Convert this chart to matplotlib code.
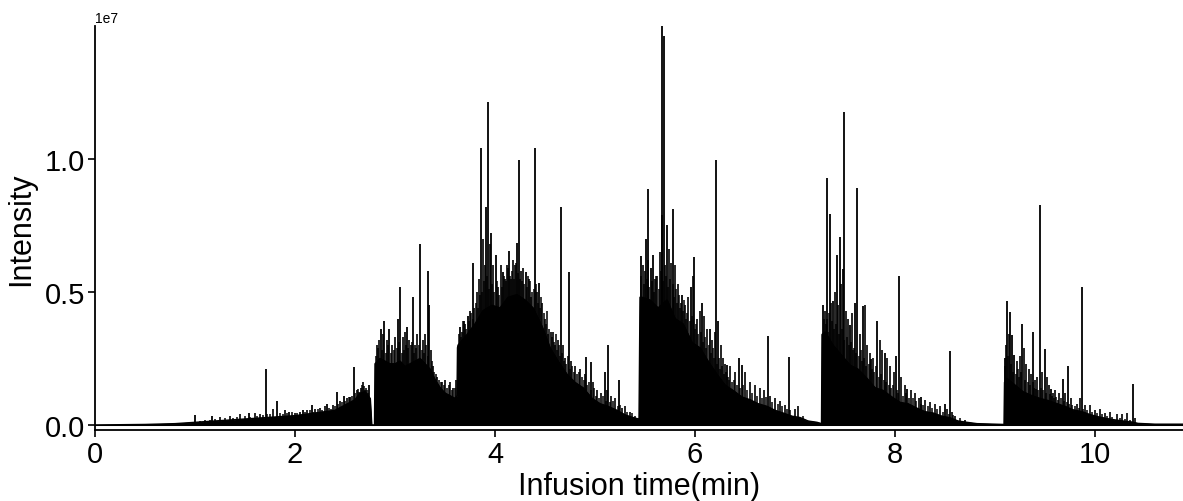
import matplotlib
matplotlib.use("Agg")
import matplotlib.pyplot as plt
import numpy as np

plt.rcParams['font.family'] = ['Liberation Sans', 'DejaVu Sans']

# Envelope of the dense signal (time in min, intensity in 1e6)
env_t = [0.0, 0.5, 0.8, 1.0, 1.2, 1.4, 1.6, 1.8, 2.0, 2.2, 2.4, 2.5, 2.6, 2.65, 2.7, 2.75, 2.765,
         2.795, 2.80, 2.85, 2.9, 2.95, 3.0, 3.05, 3.1, 3.15, 3.2, 3.25, 3.3, 3.35, 3.4, 3.45, 3.5, 3.55, 3.6, 3.62,
         3.625, 3.63, 3.72, 3.80, 3.88, 3.97, 4.05, 4.13, 4.22, 4.30, 4.38, 4.47, 4.55, 4.63, 4.72, 4.80, 4.88,
         4.97, 5.05, 5.13, 5.22, 5.30, 5.38, 5.44,
         5.45, 5.47, 5.55, 5.63, 5.72, 5.80, 5.88, 5.97, 6.05, 6.13, 6.22, 6.30, 6.38, 6.47, 6.55, 6.63, 6.72,
         6.80, 6.88, 6.97, 7.05, 7.13, 7.22, 7.265,
         7.27, 7.30, 7.38, 7.47, 7.55, 7.63, 7.72, 7.80, 7.88, 7.97, 8.05, 8.13, 8.22, 8.30, 8.38, 8.47, 8.55,
         8.63, 8.72, 8.82, 9.0, 9.09,
         9.095, 9.12, 9.20, 9.28, 9.37, 9.45, 9.53, 9.62, 9.70, 9.78, 9.87, 9.95, 10.03, 10.12, 10.20, 10.28,
         10.37, 10.43, 10.6, 10.88]
env_v = [0.0, 0.02, 0.05, 0.1, 0.15, 0.2, 0.25, 0.3, 0.35, 0.45, 0.55, 0.75, 0.95, 1.2, 1.25, 1.0, 0.0,
         0.0, 2.3, 2.5, 2.4, 2.3, 2.3, 2.4, 2.2, 2.3, 2.4, 2.5, 2.3, 2.1, 1.7, 1.4, 1.2, 1.1, 1.0, 1.1,
         2.9, 3.0, 3.4, 3.8, 4.3, 4.5, 4.4, 4.8, 4.9, 4.7, 4.4, 3.7, 2.9, 2.4, 1.9, 1.6, 1.4,
         1.0, 0.8, 0.7, 0.55, 0.38, 0.28, 0.22,
         4.8, 4.8, 4.7, 4.4, 4.7, 4.0, 3.8, 3.1, 2.9, 2.4, 1.9, 1.5, 1.3, 1.05, 0.95, 0.8, 0.7,
         0.55, 0.45, 0.33, 0.28, 0.15, 0.1, 0.05,
         3.4, 3.5, 3.0, 2.6, 2.25, 2.1, 1.75, 1.4, 1.3, 1.05, 0.85, 0.8, 0.63, 0.5, 0.45, 0.33, 0.27,
         0.15, 0.1, 0.05, 0.03, 0.02,
         1.6, 1.75, 1.5, 1.25, 1.1, 1.0, 0.92, 0.8, 0.7, 0.57, 0.5, 0.39, 0.31, 0.24, 0.19, 0.15,
         0.11, 0.06, 0.03, 0.03]

# Tall individual peaks (time in min, intensity in 1e6)
peak_t = [1.0, 1.17, 1.54, 1.707, 1.82, 1.94, 2.08, 2.17, 2.32, 2.42, 2.49, 2.55, 2.59, 2.74,
          2.86, 2.89, 2.94, 3.03, 3.05, 3.12, 3.18, 3.25, 3.33, 3.34,
          3.65, 3.69, 3.73, 3.776, 3.863, 3.906, 3.933, 3.96, 4.01, 4.08, 4.14, 4.22, 4.24, 4.31, 4.397,
          4.44, 4.66, 4.74, 4.91, 4.96, 5.10, 5.13, 5.24,
          5.46, 5.51, 5.527, 5.56, 5.583, 5.667, 5.673, 5.69, 5.717, 5.777, 5.87, 5.96, 5.99, 6.07, 6.15,
          6.21, 6.23, 6.32, 6.44, 6.47, 6.73, 6.94,
          7.28, 7.323, 7.35, 7.38, 7.42, 7.45, 7.48, 7.493, 7.55, 7.60, 7.62, 7.68, 7.76, 7.82, 7.90,
          8.01, 8.04, 8.12, 8.26, 8.50, 8.55,
          9.10, 9.12, 9.15, 9.167, 9.19, 9.27, 9.377, 9.45, 9.50, 9.56, 9.68, 9.73, 9.867, 10.38]
peak_v = [0.37, 0.33, 0.45, 2.1, 0.9, 0.5, 0.56, 0.75, 0.8, 1.23, 1.1, 1.06, 2.18, 1.5,
          3.6, 3.9, 3.6, 4.0, 5.2, 3.7, 4.8, 6.8, 5.8, 4.5,
          3.7, 3.9, 4.1, 6.1, 10.4, 8.2, 12.15, 7.2, 6.4, 5.76, 6.55, 6.84, 9.97, 5.75, 10.4,
          5.34, 8.2, 5.76, 2.57, 2.37, 2.0, 3.0, 1.69,
          6.35, 7.0, 8.87, 5.9, 6.4, 7.9, 15.04, 14.6, 7.5, 8.1, 4.9, 5.2, 6.3, 4.6, 3.6,
          9.94, 3.9, 2.25, 2.5, 2.25, 3.36, 2.55,
          4.5, 9.3, 7.93, 4.67, 6.4, 7.05, 5.86, 11.75, 3.77, 4.6, 8.9, 4.46, 2.48, 3.9, 2.7,
          2.6, 5.6, 1.35, 1.05, 0.8, 2.77,
          2.5, 4.65, 4.24, 3.38, 2.63, 3.8, 3.5, 8.27, 2.86, 1.35, 1.73, 2.2, 5.2, 1.54]

# Medium peaks giving the jagged top of the dense bands
minor_t = [1.25, 1.35, 1.45, 1.6, 1.65, 1.78, 1.9, 2.0, 2.05, 2.12, 2.2, 2.25, 2.3, 2.38, 2.45, 2.52,
           2.62, 2.66, 2.68, 2.7,
           2.82, 2.84, 2.88, 2.92, 2.97, 3.0, 3.08, 3.1, 3.14, 3.16, 3.2, 3.22, 3.28, 3.3, 3.36, 3.38,
           3.42, 3.47, 3.5, 3.55, 3.58, 3.61,
           3.67, 3.7, 3.75, 3.79, 3.82, 3.84, 3.88, 3.9, 3.95, 3.98, 4.03, 4.06, 4.1, 4.12, 4.16, 4.18,
           4.2, 4.26, 4.28, 4.34, 4.36, 4.42, 4.47, 4.5, 4.53, 4.56, 4.58, 4.6, 4.63, 4.68, 4.7, 4.76,
           4.8, 4.85, 4.9, 4.98, 5.02, 5.06, 5.12, 5.16, 5.2, 5.27, 5.3, 5.35,
           5.48, 5.5, 5.53, 5.6, 5.62, 5.65, 5.7, 5.74, 5.76, 5.8, 5.83, 5.86, 5.9, 5.93, 5.98, 6.02,
           6.05, 6.09, 6.12, 6.17, 6.2, 6.26, 6.28, 6.3, 6.35, 6.4, 6.5, 6.55, 6.6, 6.65, 6.69, 6.75,
           6.8, 6.85, 6.9, 7.0, 7.03,
           7.3, 7.32, 7.36, 7.4, 7.43, 7.46, 7.51, 7.53, 7.57, 7.65, 7.7, 7.72, 7.75, 7.78, 7.85, 7.87,
           7.92, 7.95, 7.99, 8.06, 8.1, 8.16, 8.2, 8.24, 8.3, 8.35, 8.4, 8.45, 8.52, 8.57, 8.6, 8.7,
           9.11, 9.14, 9.22, 9.25, 9.29, 9.31, 9.34, 9.36, 9.4, 9.42, 9.47, 9.52, 9.54, 9.58, 9.6,
           9.64, 9.7, 9.76, 9.82, 9.85, 9.9, 9.95, 10.0, 10.05, 10.1, 10.15, 10.22, 10.27, 10.32, 10.4]
minor_v = [0.3, 0.35, 0.4, 0.45, 0.4, 0.6, 0.55, 0.45, 0.5, 0.55, 0.6, 0.65, 0.7, 0.75, 0.9, 1.0,
           1.3, 1.4, 1.6, 1.3,
           3.0, 3.2, 3.4, 3.2, 3.0, 3.3, 3.3, 3.5, 3.2, 3.0, 3.0, 3.4, 3.2, 3.4, 2.8, 2.2,
           1.8, 1.6, 1.7, 1.6, 1.4, 1.7,
           3.5, 3.8, 4.3, 4.4, 5.0, 5.5, 7.0, 6.0, 6.8, 6.0, 5.2, 6.0, 5.5, 6.0, 5.5, 6.2,
           6.0, 5.8, 5.9, 5.5, 4.8, 5.0, 4.6, 4.0, 3.4, 3.5, 3.5, 3.0, 3.2, 3.0, 2.5, 2.4,
           2.2, 2.1, 1.9, 1.6, 1.3, 1.2, 1.3, 1.1, 1.0, 0.65, 0.7, 0.5,
           6.0, 5.8, 6.2, 5.5, 5.6, 6.5, 6.0, 6.6, 6.1, 6.0, 5.3, 4.6, 4.5, 4.8, 5.6, 4.0,
           4.3, 4.1, 3.6, 3.2, 3.5, 3.0, 2.5, 2.3, 2.2, 2.0, 2.0, 1.6, 1.5, 1.4, 1.3, 1.1,
           1.0, 0.9, 0.75, 0.6, 0.7,
           4.3, 4.0, 4.6, 5.0, 4.5, 5.3, 4.3, 4.0, 4.2, 3.4, 4.5, 3.0, 2.7, 2.5, 3.2, 2.8,
           2.5, 2.2, 2.0, 1.8, 1.5, 1.3, 1.2, 1.0, 0.95, 0.85, 0.8, 0.7, 0.6, 0.5, 0.35, 0.2,
           3.0, 3.4, 2.4, 2.6, 2.9, 2.3, 2.1, 1.9, 1.7, 1.8, 2.0, 1.8, 1.5, 1.2, 1.3,
           1.2, 1.2, 1.0, 0.8, 1.0, 0.75, 0.75, 0.55, 0.6, 0.45, 0.5, 0.4, 0.4, 0.45, 0.25]

# Densely packed small lines forming the ragged top of each band
fine_t = [1.05, 1.1, 1.15, 1.2, 1.3, 1.38, 1.42, 1.5, 1.55, 1.62, 1.68, 1.72, 1.75, 1.85, 1.88, 1.92,
          1.97, 2.02, 2.1, 2.15, 2.18, 2.23, 2.27, 2.34, 2.36, 2.4, 2.43, 2.47, 2.5, 2.54, 2.57, 2.6,
          2.63, 2.64, 2.67, 2.69, 2.71, 2.72, 2.73,
          2.81, 2.83, 2.87, 2.91, 2.93, 2.96, 2.99, 3.02, 3.04, 3.07, 3.09, 3.11, 3.13, 3.17, 3.19,
          3.21, 3.24, 3.27, 3.29, 3.31, 3.33, 3.37, 3.39, 3.41, 3.44, 3.46, 3.49, 3.52, 3.54, 3.57, 3.6,
          3.64, 3.66, 3.68, 3.71, 3.74, 3.76, 3.78, 3.81, 3.83, 3.85, 3.87, 3.89, 3.92, 3.94, 3.97,
          3.99, 4.02, 4.04, 4.07, 4.09, 4.11, 4.13, 4.15, 4.17, 4.19, 4.21, 4.23, 4.25, 4.27, 4.29,
          4.32, 4.33, 4.35, 4.37, 4.39, 4.41, 4.43, 4.45, 4.46, 4.49, 4.51, 4.52, 4.54, 4.57, 4.59,
          4.61, 4.62, 4.64, 4.65, 4.67, 4.69, 4.71, 4.73, 4.75, 4.77, 4.79, 4.82, 4.84, 4.87, 4.89,
          4.92, 4.94, 4.96, 4.99, 5.01, 5.04, 5.08, 5.11, 5.15, 5.18, 5.23, 5.25, 5.32, 5.37, 5.4,
          5.46, 5.49, 5.52, 5.54, 5.57, 5.59, 5.61, 5.64, 5.66, 5.68, 5.71, 5.73, 5.75, 5.78, 5.79,
          5.81, 5.82, 5.84, 5.85, 5.88, 5.89, 5.91, 5.92, 5.95, 5.97, 6.0, 6.01, 6.03, 6.06, 6.08,
          6.1, 6.11, 6.14, 6.16, 6.18, 6.19, 6.22, 6.24, 6.25, 6.27, 6.29, 6.31, 6.33, 6.34, 6.37,
          6.39, 6.42, 6.45, 6.48, 6.52, 6.57, 6.62, 6.67, 6.71, 6.77, 6.83, 6.87, 6.92, 6.95, 7.08,
          7.29, 7.31, 7.33, 7.34, 7.37, 7.39, 7.41, 7.44, 7.47, 7.49, 7.52, 7.54, 7.56, 7.58, 7.59,
          7.61, 7.64, 7.66, 7.67, 7.69, 7.71, 7.74, 7.77, 7.79, 7.81, 7.84, 7.86, 7.89, 7.91, 7.94,
          7.96, 7.98, 8.02, 8.03, 8.08, 8.11, 8.14, 8.18, 8.21, 8.26, 8.28, 8.33, 8.37, 8.42, 8.48,
          8.54, 8.58, 8.65,
          9.105, 9.13, 9.16, 9.18, 9.21, 9.23, 9.24, 9.26, 9.3, 9.33, 9.35, 9.38, 9.39, 9.41, 9.43,
          9.46, 9.48, 9.51, 9.55, 9.57, 9.59, 9.61, 9.63, 9.66, 9.69, 9.72, 9.74, 9.77, 9.8, 9.84,
          9.88, 9.92, 9.97, 10.02, 10.07, 10.12, 10.17, 10.25, 10.3, 10.35]
fine_v = [0.15, 0.2, 0.18, 0.22, 0.25, 0.28, 0.3, 0.32, 0.3, 0.35, 0.38, 0.4, 0.42, 0.45, 0.4, 0.45,
          0.5, 0.45, 0.5, 0.55, 0.5, 0.6, 0.55, 0.65, 0.6, 0.7, 0.8, 0.85, 0.9, 1.05, 1.1, 1.2,
          1.35, 1.25, 1.5, 1.45, 1.4, 1.3, 1.2,
          2.6, 2.9, 2.8, 2.7, 3.0, 2.7, 2.8, 2.9, 3.1, 2.7, 2.8, 3.0, 2.9, 3.1, 2.7,
          2.9, 3.0, 2.8, 2.7, 3.0, 2.6, 2.4, 2.0, 1.9, 1.7, 1.6, 1.5, 1.4, 1.5, 1.3, 1.4,
          3.4, 3.3, 3.9, 3.6, 3.9, 4.2, 4.0, 4.6, 4.4, 4.9, 5.0, 5.4, 5.6, 5.1, 5.3,
          5.0, 5.4, 4.9, 5.2, 5.6, 5.4, 5.9, 5.6, 5.8, 5.5, 6.1, 5.7, 5.5, 5.4, 5.3,
          5.2, 5.6, 5.4, 5.0, 5.1, 5.3, 4.6, 4.4, 4.8, 4.2, 3.8, 4.3, 3.6, 3.3, 3.1,
          3.4, 2.8, 3.0, 2.6, 2.7, 2.4, 2.3, 2.6, 2.1, 2.2, 2.0, 1.9, 2.0, 1.8, 1.7,
          1.5, 1.6, 1.3, 1.4, 1.1, 1.0, 1.1, 0.9, 0.85, 0.9, 0.7, 0.75, 0.5, 0.45, 0.35,
          5.6, 5.3, 5.5, 5.2, 5.4, 5.0, 5.6, 5.1, 5.8, 5.4, 5.6, 5.2, 5.5, 5.3, 4.8,
          5.1, 4.6, 4.9, 4.4, 4.3, 4.7, 4.0, 4.2, 3.9, 4.1, 3.6, 3.8, 3.4, 3.5, 3.1,
          3.3, 2.9, 3.0, 2.7, 2.9, 2.5, 2.3, 2.5, 2.1, 2.2, 1.9, 2.0, 1.8, 1.7, 1.6,
          1.7, 1.5, 1.4, 1.5, 1.3, 1.2, 1.1, 1.0, 1.05, 0.85, 0.8, 0.7, 0.6, 0.55, 0.35,
          4.0, 3.8, 3.5, 4.2, 3.9, 3.6, 3.8, 3.4, 3.6, 3.2, 3.3, 3.0, 3.1, 2.8, 2.9,
          2.7, 2.6, 2.8, 2.4, 2.5, 2.2, 2.3, 2.1, 2.0, 2.2, 1.8, 1.9, 1.7, 1.6, 1.5,
          1.4, 1.5, 1.3, 1.2, 1.1, 1.2, 1.0, 1.0, 0.9, 0.8, 0.75, 0.7, 0.65, 0.6, 0.5,
          0.4, 0.38, 0.25,
          2.2, 2.6, 2.3, 2.0, 1.9, 2.1, 1.8, 2.0, 1.7, 1.6, 1.5, 1.6, 1.4, 1.35, 1.3,
          1.4, 1.3, 1.2, 1.15, 1.1, 1.0, 1.05, 0.95, 1.0, 0.9, 0.85, 0.8, 0.75, 0.7, 0.65,
          0.6, 0.55, 0.5, 0.45, 0.4, 0.35, 0.3, 0.25, 0.22, 0.2]

x_ticks = [0, 2, 4, 6, 8, 10]
y_ticks = [0.0, 0.5e7, 1.0e7]

scale = 1e6
fig = plt.figure(figsize=(11.83, 5.02), dpi=100)
ax = fig.add_axes([0.0803, 0.1414, 0.9197, 0.8046])

ev = np.array(env_v) * scale
ax.fill_between(env_t, 0, ev, color='black', linewidth=0.8, edgecolor='black')
ax.plot(env_t, ev, color='black', linewidth=1.0)
ax.vlines(fine_t, 0, np.array(fine_v) * scale, color='black', linewidth=1.1)
ax.vlines(minor_t, 0, np.array(minor_v) * scale, color='black', linewidth=1.2)
ax.vlines(peak_t, 0, np.array(peak_v) * scale, color='black', linewidth=1.3)

ax.set_xlim(0, 10.88)
ax.set_ylim(-0.19e6, 14.99e6)
ax.set_xticks(x_ticks)
ax.set_yticks(y_ticks)
ax.spines['top'].set_visible(False)
ax.spines['right'].set_visible(False)
ax.spines['left'].set_linewidth(1.3)
ax.spines['bottom'].set_linewidth(1.3)
ax.tick_params(axis='both', labelsize=21, length=5, width=1.2, direction='out', pad=2)
ax.set_xlabel('Infusion time(min)', fontsize=22, labelpad=2)
ax.set_ylabel('Intensity', fontsize=22, labelpad=6)
ax.yaxis.get_offset_text().set_fontsize(10)

fig.savefig('out.png', dpi=100)
